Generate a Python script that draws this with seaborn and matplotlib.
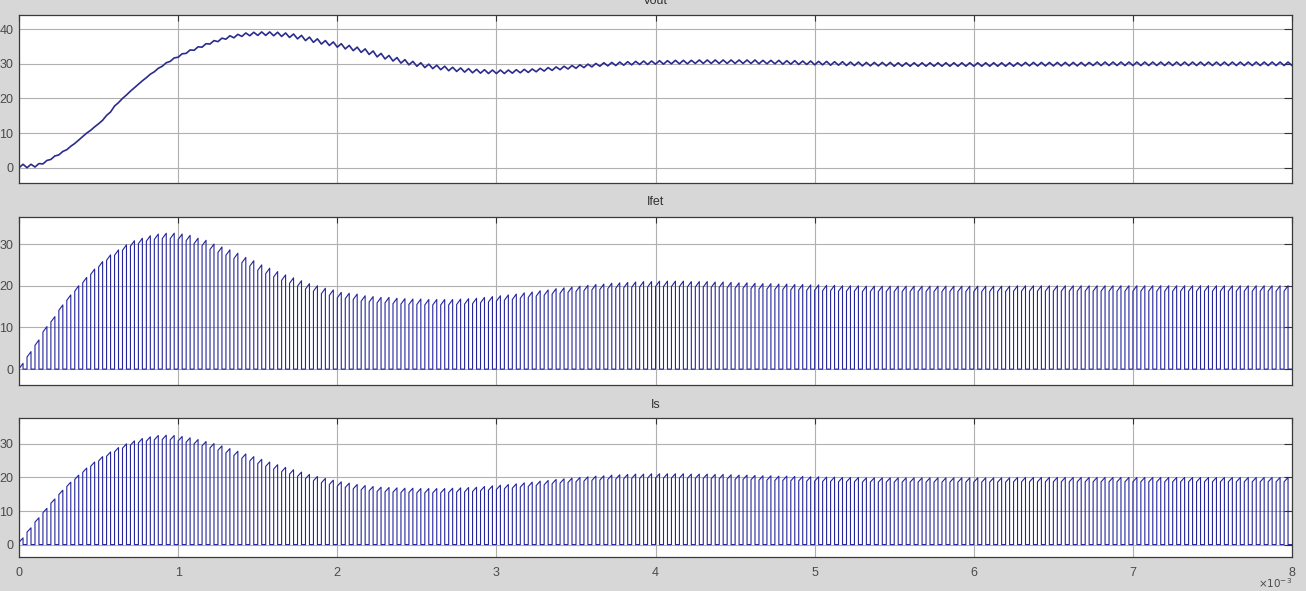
import numpy as np
import pandas as pd
import matplotlib
matplotlib.use("Agg")
import matplotlib.pyplot as plt
import seaborn as sns

# switching cycle (s) and on-time fraction
period = 0.05e-3
duty = 0.5
vout_ripple = 1.0
ifet_ramp = 1.3
is_ramp = 1.3

# Vout at the start of each switching cycle (V)
vout_valley = [
    0.0, 0.0, 0.2, 1.1, 2.4, 3.7, 5.2, 7.0, 9.0, 10.8,
    12.7, 15.1, 17.8, 20.0, 22.1, 24.1, 26.0, 27.7, 29.3, 30.7,
    31.9, 33.0, 33.9, 34.8, 35.7, 36.4, 37.1, 37.5, 37.9, 38.1,
    38.2, 38.2, 38.1, 37.9, 37.6, 37.2, 36.7, 36.2, 35.7, 35.3,
    34.8, 34.3, 33.8, 33.3, 32.7, 32.0, 31.4, 30.8, 30.2, 29.7,
    29.3, 28.9, 28.6, 28.3, 28.0, 27.8, 27.6, 27.4, 27.3, 27.2,
    27.2, 27.2, 27.3, 27.4, 27.5, 27.7, 27.9, 28.1, 28.3, 28.5,
    28.7, 28.9, 29.1, 29.3, 29.4, 29.5, 29.6, 29.7, 29.8, 29.8,
    29.9, 29.9, 30.0, 30.0, 30.0, 30.1, 30.1, 30.1, 30.1, 30.1,
    30.1, 30.1, 30.1, 30.0, 30.0, 30.0, 29.9, 29.9, 29.8, 29.8,
    29.7, 29.7, 29.6, 29.6, 29.5, 29.5, 29.4, 29.4, 29.4, 29.4,
    29.3, 29.3, 29.3, 29.3, 29.3, 29.3, 29.3, 29.3, 29.3, 29.3,
    29.3, 29.3, 29.3, 29.3, 29.3, 29.3, 29.4, 29.4, 29.4, 29.4,
    29.4, 29.4, 29.4, 29.4, 29.4, 29.5, 29.5, 29.5, 29.5, 29.5,
    29.5, 29.5, 29.5, 29.5, 29.5, 29.5, 29.5, 29.5, 29.5, 29.5,
    29.5, 29.5, 29.5, 29.5, 29.5, 29.5, 29.5, 29.5, 29.5, 29.5,
]

# peak switch current of each pulse (A)
ifet_peak = [
    1.4, 4.2, 7.0, 10.2, 12.6, 15.4, 17.8, 20.0, 22.0, 24.0,
    25.8, 27.4, 28.6, 29.8, 30.8, 31.4, 32.0, 32.4, 32.6, 32.6,
    32.4, 32.1, 31.4, 30.9, 30.0, 29.3, 28.6, 27.8, 26.8, 26.0,
    25.0, 24.2, 23.4, 22.6, 21.9, 21.2, 20.5, 20.0, 19.4, 19.0,
    18.4, 18.2, 18.0, 17.6, 17.4, 17.2, 17.2, 17.0, 16.9, 16.8,
    16.8, 16.7, 16.7, 16.7, 16.7, 16.8, 16.9, 17.0, 17.2, 17.4,
    17.6, 17.8, 18.0, 18.3, 18.5, 18.8, 19.0, 19.3, 19.5, 19.7,
    19.9, 20.1, 20.3, 20.4, 20.6, 20.7, 20.8, 20.9, 21.0, 21.0,
    21.1, 21.1, 21.1, 21.1, 21.0, 21.0, 21.0, 20.9, 20.9, 20.8,
    20.7, 20.7, 20.6, 20.5, 20.5, 20.4, 20.4, 20.3, 20.3, 20.2,
    20.2, 20.1, 20.1, 20.0, 20.0, 20.0, 19.9, 19.9, 19.9, 19.9,
    19.9, 19.9, 19.9, 19.9, 19.9, 19.9, 19.9, 19.9, 19.9, 19.9,
    19.9, 19.9, 19.9, 19.9, 19.9, 20.0, 20.0, 20.0, 20.0, 20.0,
    20.0, 20.0, 20.0, 20.0, 20.0, 20.0, 20.0, 20.0, 20.0, 20.0,
    20.0, 20.0, 20.0, 20.0, 20.0, 20.0, 20.0, 20.0, 20.0, 20.0,
    20.0, 20.0, 20.0, 20.0, 20.0, 20.0, 20.0, 20.0, 20.0, 20.0,
]

# peak source current of each pulse (A)
is_peak = [
    2.0, 5.0, 8.0, 10.8, 13.6, 16.2, 18.6, 20.7, 22.8, 24.6,
    26.2, 27.6, 28.9, 30.0, 30.9, 31.6, 32.1, 32.5, 32.6, 32.5,
    32.2, 31.8, 31.3, 30.7, 30.1, 29.4, 28.6, 27.8, 27.0, 26.2,
    25.4, 24.6, 23.8, 23.0, 22.3, 21.6, 20.9, 20.3, 19.7, 19.2,
    18.7, 18.3, 17.9, 17.6, 17.3, 17.1, 17.0, 16.9, 16.8, 16.8,
    16.7, 16.7, 16.7, 16.7, 16.8, 16.9, 17.0, 17.1, 17.3, 17.5,
    17.7, 17.9, 18.1, 18.4, 18.6, 18.9, 19.1, 19.4, 19.6, 19.8,
    20.0, 20.2, 20.4, 20.5, 20.7, 20.8, 20.9, 21.0, 21.0, 21.1,
    21.1, 21.1, 21.1, 21.1, 21.0, 21.0, 21.0, 20.9, 20.9, 20.8,
    20.7, 20.7, 20.6, 20.5, 20.5, 20.4, 20.4, 20.3, 20.3, 20.2,
    20.2, 20.1, 20.1, 20.0, 20.0, 20.0, 19.9, 19.9, 19.9, 19.9,
    19.9, 19.9, 19.9, 19.9, 19.9, 19.9, 19.9, 19.9, 19.9, 19.9,
    19.9, 19.9, 19.9, 19.9, 19.9, 20.0, 20.0, 20.0, 20.0, 20.0,
    20.0, 20.0, 20.0, 20.0, 20.0, 20.0, 20.0, 20.0, 20.0, 20.0,
    20.0, 20.0, 20.0, 20.0, 20.0, 20.0, 20.0, 20.0, 20.0, 20.0,
    20.0, 20.0, 20.0, 20.0, 20.0, 20.0, 20.0, 20.0, 20.0, 20.0,
]

titles = ["Vout", "Ifet", "Is"]
x_ticks = [0, 1e-3, 2e-3, 3e-3, 4e-3, 5e-3, 6e-3, 7e-3, 8e-3]
x_tick_labels = ["0", "1", "2", "3", "4", "5", "6", "7", "8"]
x_scale_label = r"$\times10^{-3}$"
y_ticks = [[0, 10, 20, 30, 40], [0, 10, 20, 30], [0, 10, 20, 30]]
y_limits = [(-4.4, 44.1), (-3.8, 36.5), (-3.7, 37.7)]


def vout_trace(valley):
    t, v = [], []
    for k, lo in enumerate(valley):
        t += [k * period, (k + duty) * period]
        v += [lo, lo + vout_ripple]
    t.append(len(valley) * period)
    v.append(valley[-1])
    return pd.DataFrame({"t": t, "v": v})


def pulse_trace(peaks, ramp):
    t, v = [], []
    for k, pk in enumerate(peaks):
        t0 = k * period
        t1 = (k + duty) * period
        t += [t0, t0, t1, t1]
        v += [0.0, max(0.0, pk - ramp), pk, 0.0]
    t.append(len(peaks) * period)
    v.append(0.0)
    return pd.DataFrame({"t": t, "v": v})


traces = [vout_trace(vout_valley), pulse_trace(ifet_peak, ifet_ramp),
          pulse_trace(is_peak, is_ramp)]

sns.set_style("white")
plt.rcParams["font.family"] = ["Liberation Sans", "DejaVu Sans"]

fig = plt.figure(figsize=(13.06, 5.91), dpi=100, facecolor="#d7d7d7")
# axes boxes in figure fractions (left, bottom, width, height)
boxes = [(0.0146, 0.6904, 0.9747, 0.2843),
         (0.0146, 0.3486, 0.9747, 0.2843),
         (0.0146, 0.0575, 0.9747, 0.2352)]
title_pads = [8.0, 8.5, 7.5]
line_styles = [("#2b2b8e", 1.2), ("#24249e", 0.8), ("#24249e", 0.8)]

for i, box in enumerate(boxes):
    ax = fig.add_axes(box)
    ax.set_facecolor("white")
    color, lw = line_styles[i]
    sns.lineplot(data=traces[i], x="t", y="v", ax=ax, sort=False,
                 estimator=None, color=color, linewidth=lw)
    ax.set_xlim(0, 8e-3)
    ax.set_ylim(*y_limits[i])
    ax.set_xticks(x_ticks)
    ax.set_yticks(y_ticks[i])
    ax.set_xlabel("")
    ax.set_ylabel("")
    ax.grid(True, color="#b0b0b0", linewidth=0.8)
    ax.set_axisbelow(True)
    for sp in ax.spines.values():
        sp.set_color("#3a3a3a")
        sp.set_linewidth(0.9)
    ax.tick_params(axis="x", direction="in", top=True, length=4.5,
                   color="#333333", labelcolor="#4a4a4a", labelsize=9, pad=7)
    ax.tick_params(axis="y", direction="in", right=True, length=6,
                   color="#333333", labelcolor="#4a4a4a", labelsize=9, pad=4)
    ax.set_title(titles[i], fontsize=9, color="#333333", pad=title_pads[i])
    if i < 2:
        ax.tick_params(axis="x", labelbottom=False)
    else:
        ax.set_xticklabels(x_tick_labels)
        ax.text(1.0, -0.19, x_scale_label, transform=ax.transAxes,
                ha="right", va="center", fontsize=7.5, color="#4a4a4a")

fig.savefig("out.png", dpi=100, facecolor=fig.get_facecolor())
